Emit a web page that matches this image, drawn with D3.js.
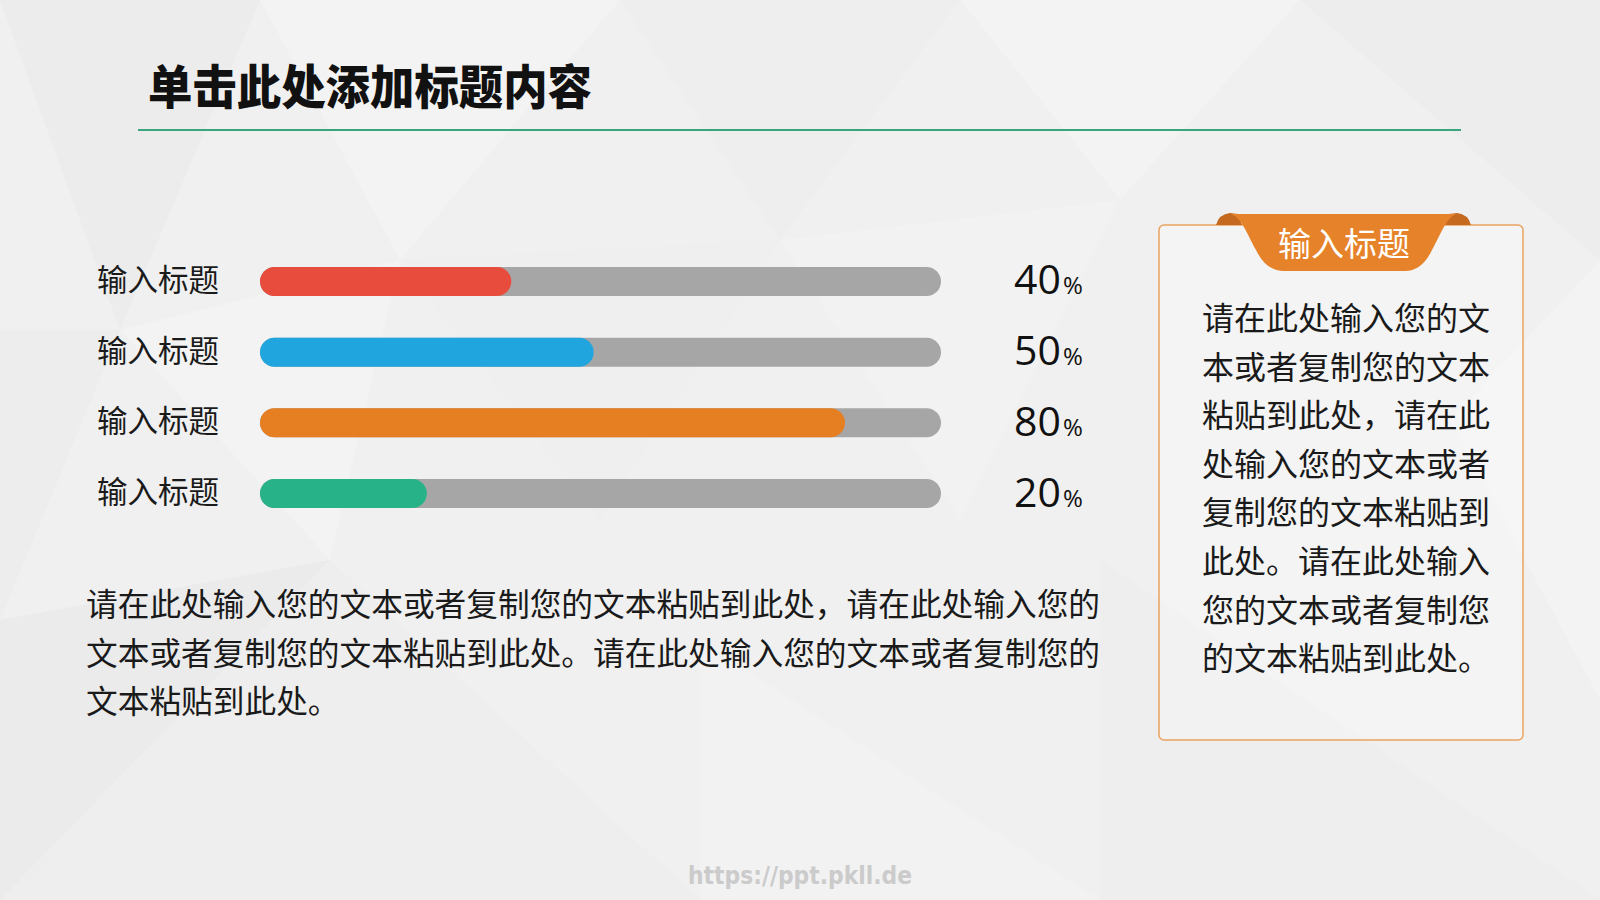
<!DOCTYPE html>
<html>
<head>
<meta charset="utf-8">
<script src="https://cdn.jsdelivr.net/npm/d3@7"></script>
<style>
html,body{margin:0;padding:0;background:#f0f0f0;}
svg{display:block;}
</style>
</head>
<body>
<svg id="chart" width="1600" height="900"></svg>
<script>
// ---- data ----
const title = "单击此处添加标题内容";
const categories = ["输入标题", "输入标题", "输入标题", "输入标题"];
const barValues = [36.9, 49, 85.9, 24.5];      // filled share of each track as drawn
const percentLabels = ["40", "50", "80", "20"]; // printed labels
const barColors = ["#e74c3c", "#21a5de", "#e67e22", "#27b387"];
const paragraphLines = [
  "请在此处输入您的文本或者复制您的文本粘贴到此处，请在此处输入您的",
  "文本或者复制您的文本粘贴到此处。请在此处输入您的文本或者复制您的",
  "文本粘贴到此处。"
];
const boxTitle = "输入标题";
const boxLines = [
  "请在此处输入您的文",
  "本或者复制您的文本",
  "粘贴到此处，请在此",
  "处输入您的文本或者",
  "复制您的文本粘贴到",
  "此处。请在此处输入",
  "您的文本或者复制您",
  "的文本粘贴到此处。"
];
const watermark = "https://ppt.pkll.de";

const CJK = "'Noto Sans CJK SC','Noto Sans',sans-serif";
const svg = d3.select("#chart");

// ---- background (decorative low-poly) ----
svg.append("rect").attr("width", 1600).attr("height", 900).attr("fill", "#f0f0f0");
const bgPolys = [
  {p: [[0,0],[260,0],[120,330]], c: "#e6e6e6"},
  {p: [[260,0],[620,0],[400,260]], c: "#f7f7f7"},
  {p: [[0,330],[120,330],[0,620]], c: "#e9e9e9"},
  {p: [[120,330],[400,260],[330,560]], c: "#f6f6f6"},
  {p: [[620,0],[960,0],[780,240]], c: "#eaeaea"},
  {p: [[960,0],[1300,0],[1120,200]], c: "#f7f7f7"},
  {p: [[1300,0],[1600,0],[1600,260]], c: "#e9e9e9"},
  {p: [[0,620],[330,560],[0,900]], c: "#e5e5e5"},
  {p: [[330,560],[700,900],[0,900]], c: "#ebebeb"},
  {p: [[700,640],[1100,900],[700,900]], c: "#f5f5f5"},
  {p: [[1100,560],[1600,900],[1100,900]], c: "#eaeaea"},
  {p: [[1600,260],[1600,700],[1450,420]], c: "#f6f6f6"},
  {p: [[780,240],[1120,200],[960,520]], c: "#f5f5f5"},
  {p: [[400,260],[780,240],[600,520]], c: "#ededed"}
];
svg.append("g").selectAll("polygon").data(bgPolys).join("polygon")
  .attr("points", d => d.p.map(q => q.join(",")).join(" "))
  .attr("fill", d => d.c).attr("opacity", 0.45);

// ---- title ----
svg.append("text").attr("x", 148).attr("y", 83)
  .attr("dominant-baseline", "central")
  .attr("textLength", 444).attr("lengthAdjust", "spacingAndGlyphs")
  .style("font-family", CJK).style("font-weight", 900).style("font-size", "47px")
  .attr("fill", "#111").text(title);
svg.append("line").attr("x1", 138).attr("x2", 1461).attr("y1", 130).attr("y2", 130)
  .attr("stroke", "#3aa57d").attr("stroke-width", 2);

// ---- bars ----
const x = d3.scaleLinear().domain([0, 100]).range([260, 941]);
const y = d3.scaleBand().domain(d3.range(categories.length)).range([267, 508]).paddingInner(0.59).paddingOuter(0);
const bh = y.bandwidth();
const rows = svg.append("g").selectAll("g")
  .data(categories.map((c, i) => ({c, i, v: barValues[i], l: percentLabels[i], col: barColors[i]})))
  .join("g");
rows.append("rect").attr("x", x(0)).attr("y", d => y(d.i)).attr("width", x(100) - x(0)).attr("height", bh)
  .attr("rx", bh / 2).attr("fill", "#a6a6a6");
rows.append("rect").attr("x", x(0)).attr("y", d => y(d.i)).attr("width", d => x(d.v) - x(0)).attr("height", bh)
  .attr("rx", bh / 2).attr("fill", d => d.col);
rows.append("text").attr("x", 97).attr("y", d => y(d.i) + bh / 2 - 3.5)
  .attr("dominant-baseline", "central")
  .style("font-family", CJK).style("font-size", "30.5px").attr("fill", "#1a1a1a").text(d => d.c);
const pt = rows.append("text").attr("x", 1014).attr("y", d => y(d.i) + bh - 1.5)
  .style("font-family", "'Open Sans',sans-serif").attr("fill", "#111");
pt.append("tspan").style("font-size", "41px").text(d => d.l);
pt.append("tspan").style("font-size", "24px").attr("dx", 2).text("%");

// ---- paragraph ----
svg.append("g").selectAll("text").data(paragraphLines).join("text")
  .attr("x", 86).attr("y", (d, i) => 602 + i * 48.5)
  .attr("dominant-baseline", "central")
  .style("font-family", CJK).style("font-size", "31.7px").attr("fill", "#1a1a1a").text(d => d);

// ---- right box ----
svg.append("rect").attr("x", 1159).attr("y", 225).attr("width", 364).attr("height", 515).attr("rx", 5)
  .attr("fill", "#ffffff").attr("fill-opacity", 0.25).attr("stroke", "#e9a25f").attr("stroke-width", 1.5);
// ribbon folds
svg.append("path").attr("d", "M1216,225 Q1219,214 1230,213 L1238,214 L1242,225 Z").attr("fill", "#c4691d");
svg.append("path").attr("d", "M1471,225 Q1468,214 1457,213 L1449,214 L1445,225 Z").attr("fill", "#c4691d");
// ribbon body
svg.append("path")
  .attr("d", "M1230,214 L1457,214 C1447,216 1442,232 1432,250 Q1422,271 1405,271 L1284,271 Q1266,271 1256,250 C1246,232 1241,216 1230,214 Z")
  .attr("fill", "#e6832a");
svg.append("text").attr("x", 1344).attr("y", 242).attr("text-anchor", "middle")
  .attr("dominant-baseline", "central")
  .style("font-family", CJK).style("font-size", "33px").attr("fill", "#fff").text(boxTitle);
svg.append("g").selectAll("text").data(boxLines).join("text")
  .attr("x", 1202).attr("y", (d, i) => 316 + i * 48.6)
  .attr("dominant-baseline", "central")
  .style("font-family", CJK).style("font-size", "32px").attr("fill", "#1a1a1a").text(d => d);

// ---- watermark ----
svg.append("text").attr("x", 688).attr("y", 876).attr("dominant-baseline", "central")
  .attr("textLength", 224).attr("lengthAdjust", "spacingAndGlyphs")
  .style("font-family", "'DejaVu Sans',sans-serif").style("font-weight", "bold").style("font-size", "24px")
  .attr("fill", "#cbcbcb").text(watermark);
</script>
</body>
</html>
